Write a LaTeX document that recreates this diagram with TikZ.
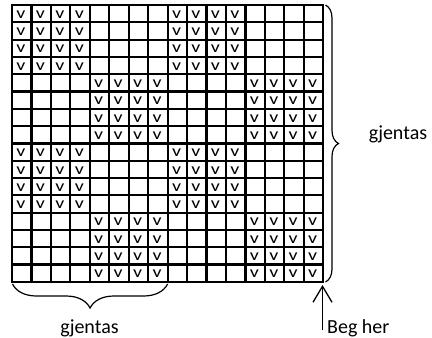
\documentclass[tikz,border=0pt]{standalone}
\usepackage{fontspec}
\setmainfont{Carlito}
\usetikzlibrary{arrows.meta,decorations.pathreplacing}

\begin{document}
\begin{tikzpicture}[x=1pt,y=-1pt,
		gridline/.style={line width=2.2pt,line cap=rect},
		stitch/.style={font=\fontsize{16}{16}\selectfont,anchor=base,inner sep=0pt,xscale=1.25},
		repbrace/.style={decorate,decoration={brace,amplitude=#1},line width=1.2pt},
		label/.style={font=\fontsize{20}{20}\selectfont,inner sep=0pt}]
		\useasboundingbox (0,0) rectangle (432,338);
		% stitches, 4x4 blocks
		\foreach \r in {0,...,15}{
			\foreach \c in {0,...,15}{
				\pgfmathtruncatemacro{\blk}{mod(div(\r,4)+div(\c,4),2)}
				\ifnum\blk=0
					\node[stitch] (v-\r-\c) at ({12+19.45*(\c+0.5)-0.8},{5+17.3*(\r+1)-4}) {v};
				\fi
			}
		}
		% grid
		\foreach \i in {0,...,16}{
			\draw[gridline] ({12+19.45*\i},5) -- ({12+19.45*\i},281.8);
			\draw[gridline] (12,{5+17.3*\i}) -- (323.2,{5+17.3*\i});
		}
		\coordinate (rb-top) at (325.5,5);
		\coordinate (rb-bot) at (325.5,282);
		\coordinate (bb-right) at (167.6,284);
		\coordinate (bb-left) at (12.5,284);
		\coordinate (start) at (322.5,330);
		\coordinate (arrow-tip) at (322.5,285);
		\draw[repbrace=13pt] (rb-top) -- (rb-bot);
		\draw[repbrace=24pt] (bb-right) -- (bb-left);
		\draw[line width=1.3pt,-{Straight Barb[length=16pt,width=19pt]}] (start) -- (arrow-tip);
		\node[label,anchor=base] (rep-right) at (398,139) {gjentas};
		\node[label,anchor=base] (rep-bottom) at (89.5,333) {gjentas};
		\node[label,anchor=base west] (start-label) at (327,333) {Beg her};
	\end{tikzpicture}
\end{document}
